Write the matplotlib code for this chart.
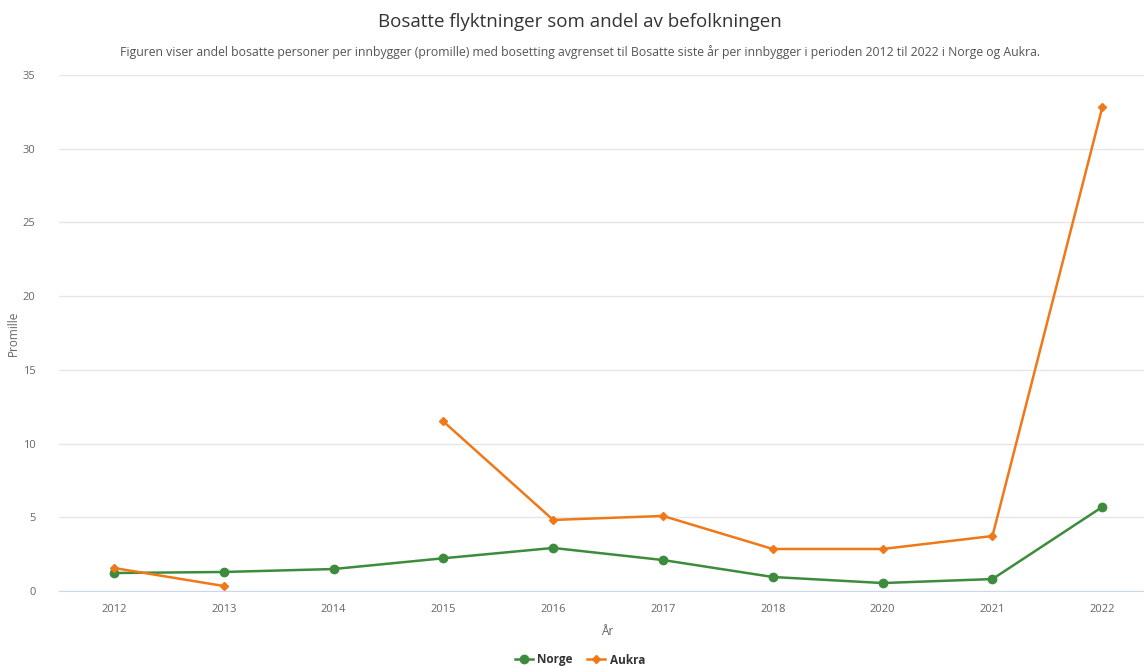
import numpy as np
import matplotlib
matplotlib.use('Agg')
import matplotlib.pyplot as plt

# Data (promille)
years = ['2012', '2013', '2014', '2015', '2016', '2017', '2018', '2020', '2021', '2022']
norge = [1.22, 1.29, 1.49, 2.22, 2.92, 2.1, 0.95, 0.54, 0.81, 5.7]
aukra = [1.56, 0.34, np.nan, 11.5, 4.82, 5.09, 2.85, 2.85, 3.73, 32.8]

green = '#3d8b3d'
orange = '#f07818'

plt.rcParams['font.family'] = ['Open Sans', 'DejaVu Sans']

fig = plt.figure(figsize=(11.44, 6.66), dpi=100)
ax = fig.add_axes([59 / 1144, 1 - 591 / 666, 1 - 59 / 1144, (591 - 75) / 666])

x = np.arange(len(years))
ax.plot(x, norge, color=green, lw=1.8, marker='o', ms=6, label='Norge', zorder=3)
ax.plot(x, aukra, color=orange, lw=1.8, marker='D', ms=4.5, label='Aukra', zorder=3)

ax.set_xlim(-0.5, 9.38)
ax.set_ylim(0, 35)
ax.set_yticks(range(0, 36, 5))
ax.set_xticks(x)
ax.set_xticklabels(years)

ax.grid(axis='y', color='#e6e6e6', lw=1)
ax.set_axisbelow(True)
for s in ['top', 'right', 'left']:
    ax.spines[s].set_visible(False)
ax.spines['bottom'].set_color('#ccd6eb')
ax.tick_params(axis='both', length=0, colors='#666666', labelsize=8)
ax.tick_params(axis='x', pad=9)
ax.tick_params(axis='y', pad=17)

ax.set_xlabel('År', color='#666666', fontsize=8.5)
ax.xaxis.set_label_coords((607 - 59) / (1144 - 59), -(625 - 591) / 516)
ax.set_ylabel('Promille', color='#666666', fontsize=8.5)
ax.yaxis.set_label_coords(-(59 - 20) / (1144 - 59), 0.5)

fig.text(580 / 1144, 1 - 22 / 666, 'Bosatte flyktninger som andel av befolkningen',
         ha='center', va='center', fontsize=13.5, color='#333333')
fig.text(580 / 1144, 1 - 52 / 666,
         'Figuren viser andel bosatte personer per innbygger (promille) med bosetting avgrenset til '
         'Bosatte siste år per innbygger i perioden 2012 til 2022 i Norge og Aukra.',
         ha='center', va='center', fontsize=8.8, color='#555555')

leg = fig.legend(loc='center', bbox_to_anchor=(580 / 1144, 1 - 660 / 666), ncol=2,
                 frameon=False, handlelength=1.5, columnspacing=1.2,
                 handletextpad=0.4, prop={'weight': 'bold', 'size': 8.5})
for t in leg.get_texts():
    t.set_color('#333333')

fig.savefig('out.png', dpi=100)
